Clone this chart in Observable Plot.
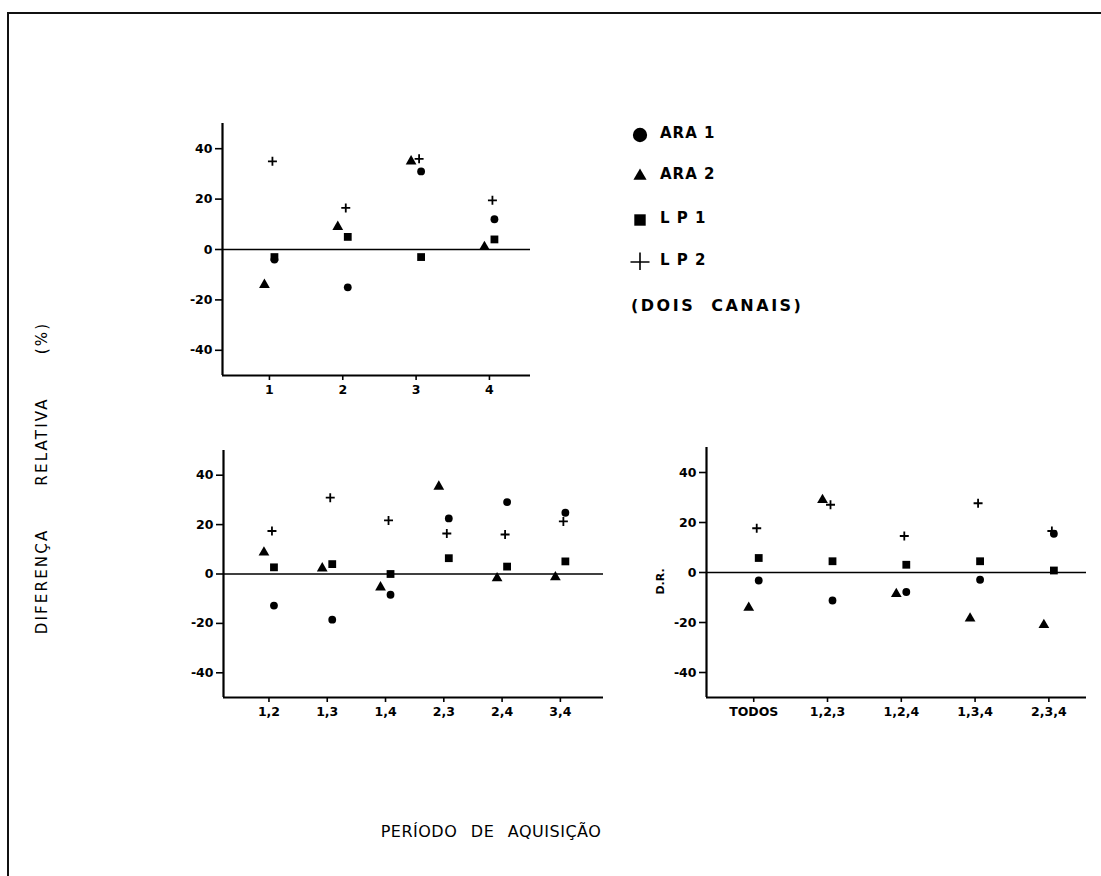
<!DOCTYPE html>
<html>
<head>
<meta charset="utf-8">
<script src="https://cdn.jsdelivr.net/npm/d3@7"></script>
<script src="https://cdn.jsdelivr.net/npm/@observablehq/plot@0.6"></script>
<style>
  html, body { margin: 0; padding: 0; background: #fff; }
  #root { position: relative; width: 1101px; height: 876px; overflow: hidden; background: #fff;
          font-family: "DejaVu Sans", "Liberation Sans", sans-serif; color: #000; }
  .frame { position: absolute; left: 7px; top: 12px; right: -10px; bottom: -10px;
           border-left: 2px solid #111; border-top: 2px solid #111; }
  .lbl { position: absolute; font-weight: bold; white-space: nowrap; }
  .panel { position: absolute; }
</style>
</head>
<body>
<div id="root">
  <div class="frame"></div>
</div>
<script>
// ---------- DATA ----------
const series = ["ARA 1", "ARA 2", "LP 1", "LP 2"];

// Top panel: single periods
const periods = ["1", "2", "3", "4"];
const topARA1 = [-4, -15, 31, 12];
const topARA2 = [-14, 9, 35, 1];
const topLP1  = [-3, 5, -3, 4];
const topLP2  = [35, 16.5, 36, 19.5];

// Bottom-left panel: pairs of periods
const pairs = ["1,2", "1,3", "1,4", "2,3", "2,4", "3,4"];
const pairARA1 = [-12.8, -18.5, -8.4, 22.5, 29.1, 24.8];
const pairARA2 = [8.7, 2.3, -5.4, 35.4, -1.7, -1.3];
const pairLP1  = [2.7, 4, 0, 6.4, 3, 5.1];
const pairLP2  = [17.4, 30.9, 21.7, 16.4, 16, 21.3];

// Bottom-right panel: triples / all
const triples = ["TODOS", "1,2,3", "1,2,4", "1,3,4", "2,3,4"];
const triARA1 = [-3.2, -11.2, -7.8, -2.9, 15.5];
const triARA2 = [-14.1, 29, -8.6, -18.4, -21];
const triLP1  = [5.8, 4.5, 3.1, 4.5, 0.8];
const triLP2  = [17.7, 27.1, 14.6, 27.7, 16.6];

const yTicks = [-40, -20, 0, 20, 40];

// ---------- STYLES ----------
const symStyle = {
  "ARA 1": {symbol: "circle",   fill: "black", stroke: "none", r: 3.9, dx: 5},
  "ARA 2": {symbol: "triangle", fill: "black", stroke: "none", r: 4.0, dx: -5},
  "LP 1":  {symbol: "square",   fill: "black", stroke: "none", r: 4.4, dx: 5},
  "LP 2":  {symbol: "plus",     fill: "none",  stroke: "black", r: 3.0, dx: 3, strokeWidth: 1.8}
};

function rows(labels, arrays) {
  const out = [];
  series.forEach((s, si) => {
    arrays[si].forEach((v, i) => out.push({i, label: labels[i], series: s, value: v}));
  });
  return out;
}

function panel({labels, arrays, xDomain, xOf, left, top, width, height}) {
  const data = rows(labels, arrays).map(d => ({...d, x: xOf(d.i)}));
  const tickVals = labels.map((_, i) => xOf(i));
  const marks = [
    Plot.ruleY([0], {stroke: "black", strokeWidth: 1.4}),
    Plot.ruleX([xDomain[0]], {stroke: "black", strokeWidth: 2.2}),
    Plot.ruleY([-50], {stroke: "black", strokeWidth: 2.2}),
    Plot.axisY({ticks: yTicks, tickSize: 7, tickPadding: 3, label: null,
                tickFormat: d => String(d), strokeWidth: 1.6}),
    Plot.axisX({ticks: tickVals, tickSize: 5, tickPadding: 5, label: null,
                tickFormat: v => labels[tickVals.indexOf(v)], strokeWidth: 1.6})
  ];
  for (const s of series) {
    const st = symStyle[s];
    marks.push(Plot.dot(data.filter(d => d.series === s), {
      x: "x", y: "value", symbol: st.symbol, r: st.r, fill: st.fill, stroke: st.stroke,
      strokeWidth: st.strokeWidth || 1, dx: st.dx
    }));
  }
  const chart = Plot.plot({
    width, height,
    marginLeft: 50, marginRight: 10, marginTop: 10, marginBottom: 40,
    style: {fontFamily: "DejaVu Sans, sans-serif", fontSize: "12.5px", fontWeight: "bold",
            color: "black", background: "transparent", overflow: "visible"},
    x: {type: "linear", domain: xDomain},
    y: {domain: [-50, 50]},
    marks
  });
  chart.classList.add("panel");
  chart.style.left = left + "px";
  chart.style.top = top + "px";
  document.getElementById("root").appendChild(chart);
}

// Top panel (periods as numbers 1..4)
panel({labels: periods, arrays: [topARA1, topARA2, topLP1, topLP2],
       xDomain: [0.36, 4.56], xOf: i => i + 1,
       left: 172, top: 113, width: 368, height: 302});

// Bottom-left panel (pairs)
panel({labels: pairs, arrays: [pairARA1, pairARA2, pairLP1, pairLP2],
       xDomain: [-0.78, 5.74], xOf: i => i,
       left: 173, top: 440, width: 440, height: 297});

// Bottom-right panel (triples)
panel({labels: triples, arrays: [triARA1, triARA2, triLP1, triLP2],
       xDomain: [-0.64, 4.51], xOf: i => i,
       left: 656, top: 437, width: 440, height: 300});

// ---------- TEXT & LEGEND ----------
const root = document.getElementById("root");
function addText(txt, css) {
  const d = document.createElement("div");
  d.className = "lbl";
  d.textContent = txt;
  d.style.cssText += css;
  root.appendChild(d);
  return d;
}

// Legend
const legendSvg = d3.create("svg").attr("width", 40).attr("height", 150)
  .style("position", "absolute").style("left", "620px").style("top", "120px");
const lg = [
  {s: "ARA 1", y: 15}, {s: "ARA 2", y: 56}, {s: "LP 1", y: 100}, {s: "LP 2", y: 142}
];
const symMap = {circle: d3.symbolCircle, triangle: d3.symbolTriangle, square: d3.symbolSquare, plus: d3.symbolPlus};
const legendSize = {"ARA 1": 160, "ARA 2": 75, "LP 1": 130, "LP 2": 120};
lg.forEach(o => {
  const st = symStyle[o.s];
  legendSvg.append("path")
    .attr("transform", `translate(20,${o.y})`)
    .attr("d", d3.symbol(symMap[st.symbol], legendSize[o.s])())
    .attr("fill", st.fill).attr("stroke", st.stroke).attr("stroke-width", 1.6);
});
root.appendChild(legendSvg.node());

const legendText = ["ARA 1", "ARA 2", "L P 1", "L P 2"];
legendText.forEach((t, k) => {
  addText(t, `left:660px; top:${124 + [0, 41, 85, 127][k]}px; font-size:15px; letter-spacing:1px;`);
});
addText("(DOIS CANAIS)", "left:631px; top:296px; font-size:16px; letter-spacing:2.5px; word-spacing:8px;");

// D.R. label on right panel
addText("D.R.", "left:647px; top:575px; font-size:11px; transform:rotate(-90deg); transform-origin:center;");

// Y axis title
addText("DIFERENÇA   RELATIVA   (%)",
  "left:42px; top:478px; font-size:15px; font-weight:normal; letter-spacing:2.2px; word-spacing:36px; transform:translate(-50%,-50%) rotate(-90deg);");

// X axis title
addText("PERÍODO  DE  AQUISIÇÃO",
  "left:491px; top:831px; font-size:16px; font-weight:normal; letter-spacing:0.5px; word-spacing:8px; transform:translate(-50%,-50%);");
</script>
</body>
</html>
